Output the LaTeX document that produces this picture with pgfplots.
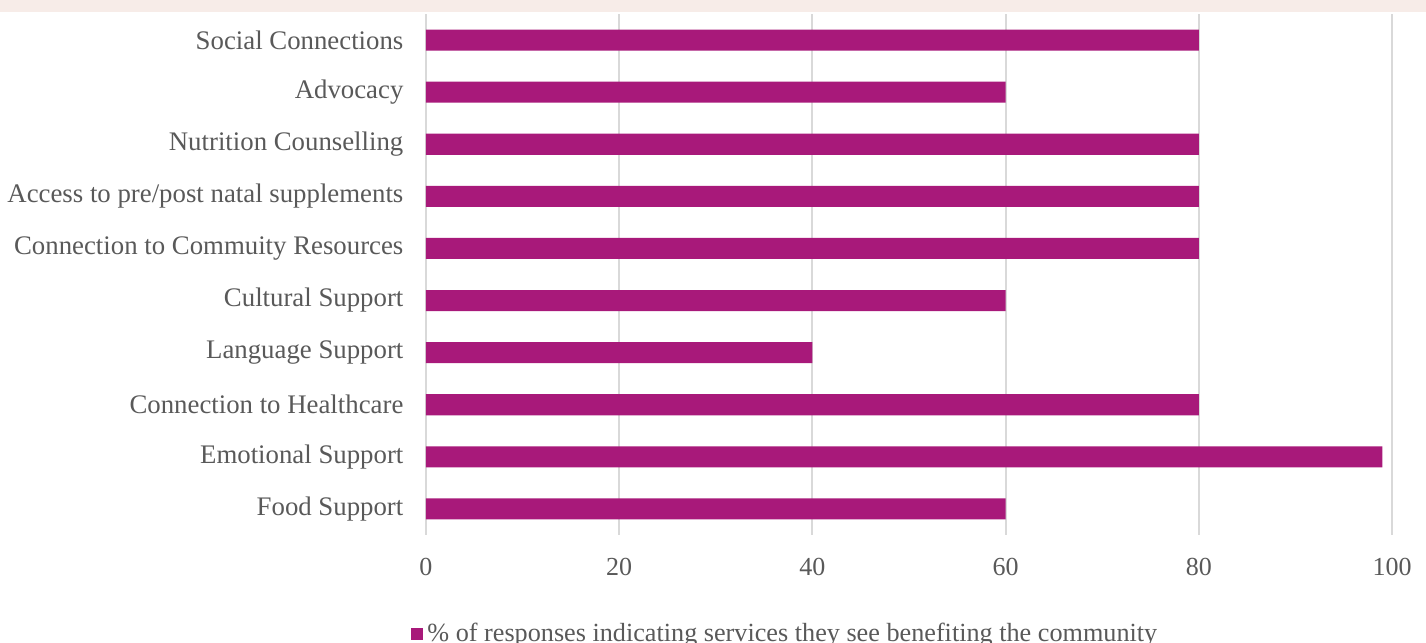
\documentclass[border=0pt]{standalone}
\usepackage{fontspec}
\setmainfont{Liberation Serif}
\usepackage{pgfplots}
\pgfplotsset{compat=1.18}
\definecolor{barc}{HTML}{A8197A}
\definecolor{txt}{HTML}{595959}
\definecolor{grd}{HTML}{D9D9D9}
\definecolor{strip}{HTML}{F7ECE8}
\begin{document}
\begin{tikzpicture}[x=0.5pt,y=0.5pt]
\useasboundingbox (0,0) rectangle (1426,643);
\fill[strip] (0,631) rectangle (1426,643);
\begin{axis}[
  at={(213pt,54pt)}, anchor=south west,
  scale only axis, width=483pt, height=260.5pt,
  xbar, bar width=10.5pt,
  xmin=0, xmax=100, ymin=-0.5, ymax=9.5,
  ytick={0,...,9},
  yticklabels={Food Support, Emotional Support, Connection to Healthcare, Language Support, Cultural Support, Connection to Commuity Resources, Access to pre/post natal supplements, Nutrition Counselling, Advocacy, Social Connections},
  xtick={0,20,...,100},
  xmajorgrids, grid style={grd, line width=1pt},
  axis line style={draw=none}, tick style={draw=none},
  ticklabel style={text=txt},
  yticklabel style={font=\fontsize{13.4}{15}\selectfont, xshift=-3.5pt},
  xticklabel style={font=\fontsize{13}{15}\selectfont, yshift=-8pt},
  /pgf/number format/assume math mode=true,
  legend style={at={(0.373,-0.19)}, anchor=center, draw=none, fill=none,
    font=\fontsize{13.1}{15}\selectfont, text=txt},
  legend image code/.code={\fill[barc] (0pt,-3pt) rectangle (6pt,3pt);},
]
\addplot[fill=barc, draw=none] coordinates {
 (60,0) (99,1) (80,2) (40,3) (60,4) (80,5) (80,6) (80,7) (60,8) (80,9)};
\addlegendentry{\% of responses indicating services they see benefiting the community}
\end{axis}
\end{tikzpicture}
\end{document}
